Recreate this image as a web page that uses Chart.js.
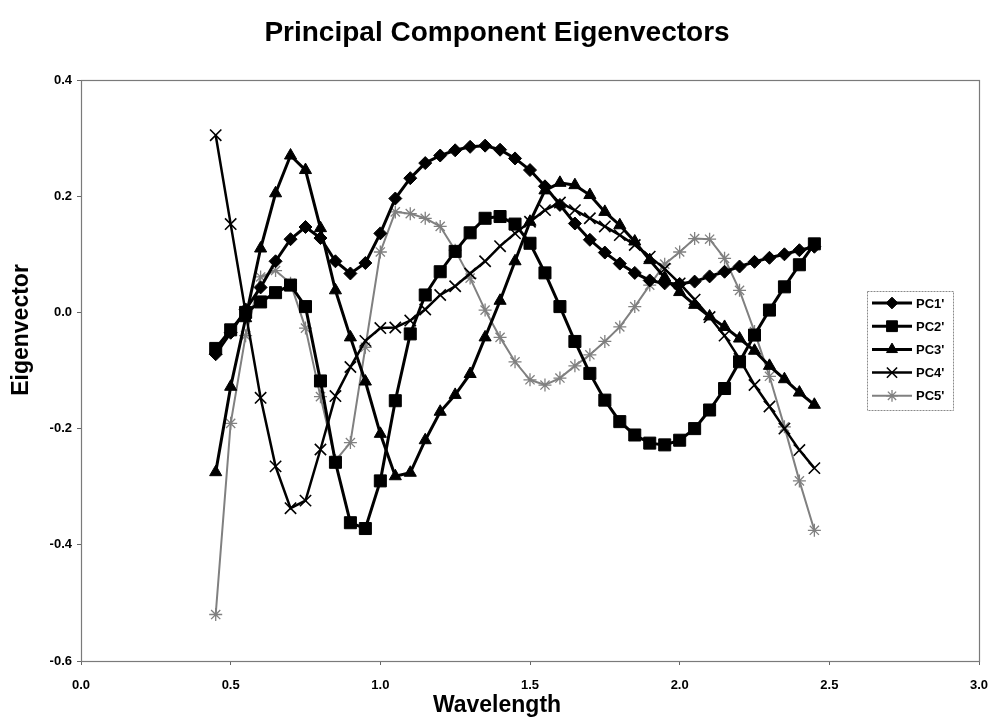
<!DOCTYPE html>
<html>
<head>
<meta charset="utf-8">
<title>Principal Component Eigenvectors</title>
<script src="https://cdn.jsdelivr.net/npm/chart.js@4/dist/chart.umd.min.js"></script>
<style>
  html, body { margin: 0; padding: 0; background: #ffffff; }
  canvas { display: block; }
</style>
</head>
<body>
<canvas id="eigen-chart" width="993" height="727"></canvas>
<script>
const wavelength = [
  0.45, 0.50, 0.55, 0.60, 0.65, 0.70, 0.75, 0.80, 0.85, 0.90, 0.95,
  1.00, 1.05, 1.10, 1.15, 1.20, 1.25, 1.30, 1.35, 1.40, 1.45,
  1.50, 1.55, 1.60, 1.65, 1.70, 1.75, 1.80, 1.85, 1.90, 1.95,
  2.00, 2.05, 2.10, 2.15, 2.20, 2.25, 2.30, 2.35, 2.40, 2.45
];

const pc1 = [
  -0.072, -0.035, 0.005, 0.043, 0.088, 0.126, 0.147, 0.128, 0.088, 0.067, 0.085,
  0.136, 0.196, 0.231, 0.257, 0.270, 0.279, 0.285, 0.287, 0.280, 0.265,
  0.245, 0.217, 0.185, 0.153, 0.125, 0.103, 0.084, 0.068, 0.055, 0.050,
  0.049, 0.053, 0.062, 0.070, 0.079, 0.087, 0.094, 0.100, 0.107, 0.113
];

const pc2 = [
  -0.062, -0.030, 0.000, 0.018, 0.034, 0.047, 0.010, -0.118, -0.258, -0.362, -0.372,
  -0.290, -0.152, -0.037, 0.030, 0.070, 0.105, 0.137, 0.162, 0.165, 0.152,
  0.119, 0.068, 0.010, -0.050, -0.105, -0.151, -0.188, -0.211, -0.225, -0.228,
  -0.220, -0.200, -0.168, -0.131, -0.085, -0.039, 0.004, 0.044, 0.082, 0.118
];

const pc3 = [
  -0.275, -0.128, -0.010, 0.110, 0.205, 0.270, 0.245, 0.145, 0.038, -0.043, -0.119,
  -0.209, -0.282, -0.276, -0.220, -0.171, -0.142, -0.106, -0.043, 0.020, 0.088,
  0.156, 0.210, 0.223, 0.219, 0.202, 0.173, 0.150, 0.122, 0.090, 0.060,
  0.035, 0.013, -0.007, -0.025, -0.045, -0.066, -0.092, -0.115, -0.138, -0.159
];

const pc4 = [
  0.305, 0.152, 0.000, -0.147, -0.265, -0.337, -0.324, -0.236, -0.144, -0.094, -0.049,
  -0.027, -0.026, -0.014, 0.005, 0.030, 0.045, 0.067, 0.088, 0.114, 0.136,
  0.156, 0.176, 0.189, 0.176, 0.162, 0.148, 0.133, 0.116, 0.096, 0.075,
  0.050, 0.022, -0.008, -0.040, -0.080, -0.125, -0.162, -0.200, -0.237, -0.268
];

const pc5 = [
  -0.520, -0.191, -0.040, 0.061, 0.072, 0.050, -0.027, -0.145, -0.255, -0.224, -0.060,
  0.104, 0.173, 0.170, 0.162, 0.148, 0.107, 0.059, 0.004, -0.043, -0.085,
  -0.116, -0.125, -0.113, -0.092, -0.073, -0.050, -0.025, 0.010, 0.047, 0.083,
  0.104, 0.127, 0.126, 0.093, 0.038, -0.033, -0.110, -0.197, -0.290, -0.375
];

const seriesNames = [ "PC1'", "PC2'", "PC3'", "PC4'", "PC5'" ];
const xTicks = [ 0.0, 0.5, 1.0, 1.5, 2.0, 2.5, 3.0 ];
const yTicks = [ -0.6, -0.4, -0.2, 0.0, 0.2, 0.4 ];

const FONT = "'Liberation Sans', Arial, Helvetica, sans-serif";

function toPoints( values ) {
  return values.map( ( v, i ) => ( { x: wavelength[ i ], y: v } ) );
}

// Marker and line look for each component, in series order
let styles = [
  { pointStyle: 'rectRot', radius: 6.5, color: '#000000', line: 3, markerLine: 1 },
  { pointStyle: 'rect', radius: 8.5, color: '#000000', line: 3, markerLine: 1 },
  { pointStyle: 'triangle', radius: 7, color: '#000000', line: 3, markerLine: 1 },
  { pointStyle: 'crossRot', radius: 8, color: '#000000', line: 2.5, markerLine: 1.6 },
  { pointStyle: 'star', radius: 6.5, color: '#808080', line: 2, markerLine: 1.3 }
];

let datasets = [ pc1, pc2, pc3, pc4, pc5 ].map( ( values, index ) => {
  let s = styles[ index ];
  return {
    label: seriesNames[ index ],
    data: toPoints( values ),
    showLine: true,
    borderColor: s.color,
    backgroundColor: s.color,
    borderWidth: s.line,
    pointStyle: s.pointStyle,
    pointRadius: s.radius,
    pointBorderWidth: s.markerLine,
    pointBorderColor: s.color,
    pointBackgroundColor: s.color,
    pointHoverRadius: s.radius,
    tension: 0
  };
} );

// Gray frame round the plot area
const plotFrame = {
  id: 'plotFrame',
  afterDatasetsDraw( chart ) {
    let a = chart.chartArea;
    let ctx = chart.ctx;
    ctx.save();
    ctx.strokeStyle = '#7a7a7a';
    ctx.lineWidth = 1.2;
    ctx.strokeRect( a.left + 0.5, a.top + 0.5, a.right - a.left, a.bottom - a.top );
    ctx.restore();
  }
};

// Chart title and axis titles, placed by hand rather than centred on the plot area
const chartTitles = {
  id: 'chartTitles',
  afterDraw( chart ) {
    let ctx = chart.ctx;
    ctx.save();
    ctx.fillStyle = '#000000';
    ctx.textAlign = 'center';
    ctx.textBaseline = 'middle';

    ctx.font = 'bold 28px ' + FONT;
    ctx.fillText( 'Principal Component Eigenvectors', 497, 33 );

    ctx.font = 'bold 23px ' + FONT;
    ctx.fillText( 'Wavelength', 497, 706 );

    ctx.translate( 22, 330 );
    ctx.rotate( -Math.PI / 2 );
    ctx.fillText( 'Eigenvector', 0, 0 );
    ctx.restore();
  }
};

// Boxed legend sitting inside the plot on the right
const boxLegend = {
  id: 'boxLegend',
  afterDraw( chart ) {
    let ctx = chart.ctx;
    let left = 867, top = 291, width = 86, height = 119;
    let rowStart = 303, rowGap = 23.2;

    ctx.save();
    ctx.fillStyle = '#ffffff';
    ctx.fillRect( left, top, width, height );
    ctx.strokeStyle = '#8a8a8a';
    ctx.lineWidth = 1;
    ctx.setLineDash( [ 2, 1 ] );
    ctx.strokeRect( left + 0.5, top + 0.5, width, height );
    ctx.setLineDash( [] );

    chart.data.datasets.forEach( ( ds, i ) => {
      let y = rowStart + i * rowGap;
      ctx.strokeStyle = ds.borderColor;
      ctx.lineWidth = ds.borderWidth;
      ctx.beginPath();
      ctx.moveTo( 872, y );
      ctx.lineTo( 912, y );
      ctx.stroke();

      ctx.fillStyle = ds.pointBackgroundColor;
      ctx.strokeStyle = ds.pointBorderColor;
      ctx.lineWidth = ds.pointBorderWidth;
      Chart.helpers.drawPoint( ctx, {
        pointStyle: ds.pointStyle,
        radius: ds.pointRadius * 0.9,
        borderWidth: ds.pointBorderWidth,
        rotation: 0
      }, 892, y );

      ctx.fillStyle = '#000000';
      ctx.font = 'bold 13px ' + FONT;
      ctx.textBaseline = 'middle';
      ctx.textAlign = 'left';
      ctx.fillText( ds.label, 916, y + 1 );
    } );
    ctx.restore();
  }
};

let tickFont = { family: FONT, size: 13, weight: 'bold' };

new Chart( document.getElementById( 'eigen-chart' ), {
  type: 'scatter',
  data: { datasets: datasets },
  options: {
    responsive: false,
    animation: false,
    events: [],
    layout: {
      autoPadding: false,
      padding: { left: 0, right: 14, top: 80, bottom: 0 }
    },
    plugins: {
      legend: { display: false },
      tooltip: { enabled: false },
      title: { display: false }
    },
    scales: {
      x: {
        type: 'linear',
        min: 0,
        max: 3,
        afterFit: ( scale ) => {
          scale.height = 66;
          scale.paddingLeft = 0;
          scale.paddingRight = 0;
        },
        afterBuildTicks: ( scale ) => { scale.ticks = xTicks.map( ( v ) => ( { value: v } ) ); },
        border: { display: false },
        grid: { drawOnChartArea: false, drawTicks: true, tickLength: 4, color: '#666666' },
        ticks: {
          color: '#000000',
          font: tickFont,
          padding: 13,
          maxRotation: 0,
          callback: ( v ) => Number( v ).toFixed( 1 )
        }
      },
      y: {
        type: 'linear',
        min: -0.6,
        max: 0.4,
        afterFit: ( scale ) => { scale.width = 81; },
        afterBuildTicks: ( scale ) => { scale.ticks = yTicks.map( ( v ) => ( { value: v } ) ); },
        border: { display: false },
        grid: { drawOnChartArea: false, drawTicks: true, tickLength: 4, color: '#666666' },
        ticks: {
          color: '#000000',
          font: tickFont,
          padding: 5,
          callback: ( v ) => Number( v ).toFixed( 1 )
        }
      }
    }
  },
  plugins: [ plotFrame, chartTitles, boxLegend ]
} );
</script>
</body>
</html>
